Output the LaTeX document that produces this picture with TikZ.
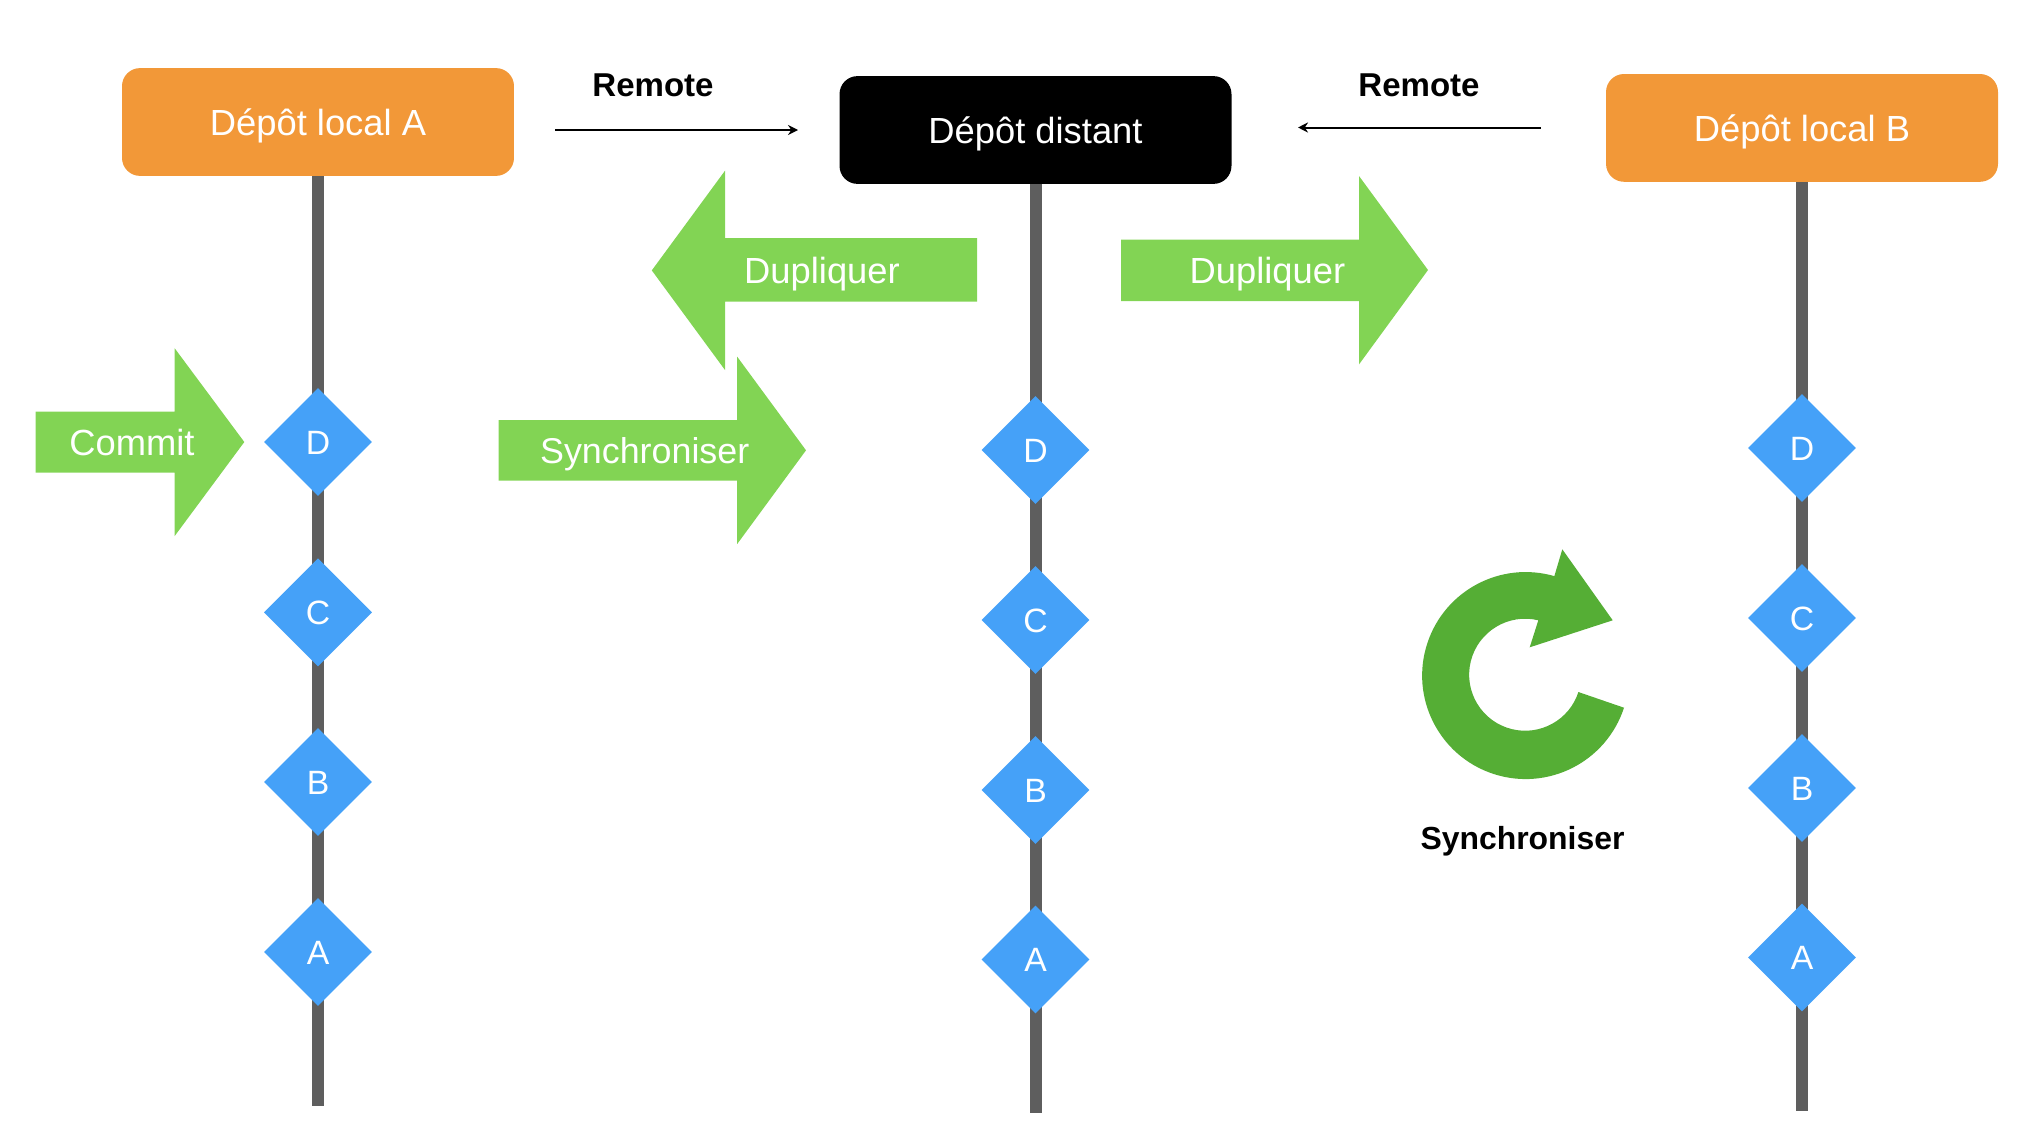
\documentclass[tikz,border=0pt]{standalone}
\usepackage{fontspec}
\setmainfont{Liberation Sans}
\usetikzlibrary{shapes.geometric,arrows.meta,backgrounds}
\definecolor{boxorange}{HTML}{F29838}
\definecolor{arrowgreen}{HTML}{82D454}
\definecolor{syncgreen}{HTML}{55AE35}
\definecolor{diamondblue}{HTML}{45A1F8}
\definecolor{spinegray}{HTML}{5E5E5E}
\tikzset{
  x=0.05cm,y=0.05cm,
  repo/.style={draw=none,fill=#1,rounded corners=0.9cm,minimum width=19.6cm,minimum height=5.39cm,inner sep=0pt,text=white,font=\fontsize{51.7}{60}\selectfont,text height=1.3cm,text depth=0pt},
  commitmark/.style={diamond,draw=none,fill=diamondblue,minimum width=5.4cm,minimum height=5.4cm,inner sep=0pt,text=white,font=\fontsize{48}{60}\selectfont,text height=1.22cm,text depth=0pt},
  spine/.style={line width=0.6cm,draw=spinegray},
  bigarrow/.style={fill=arrowgreen,draw=none},
  arrowtext/.style={inner sep=0pt,text=white,font=\fontsize{51.7}{60}\selectfont,text height=1.3cm,text depth=0pt},
  boldtext/.style={inner sep=0pt,text=black,font=\fontsize{47}{56}\selectfont\bfseries,text height=1.18cm,text depth=0pt},
  thinarrow/.style={line width=0.1cm,draw=black,-{Stealth[length=0.5cm,width=0.5cm]}}
}
\begin{document}
\begin{tikzpicture}
\useasboundingbox (0,0) rectangle (2030,-1138);
% repositories
\node[repo=boxorange] (localA) at (318,-122) {\raisebox{-1pt}{Dépôt local A}};
\node[repo=black] (distant) at (1035.5,-130) {Dépôt distant};
\node[repo=boxorange] (localB) at (1802,-127.9) {\raisebox{-1pt}{Dépôt local B}};
% commits
\node[commitmark] (aD) at (318,-442) {D};
\node[commitmark] (aC) at (318,-612.4) {C};
\node[commitmark] (aB) at (318,-782) {B};
\node[commitmark] (aA) at (318,-952) {A};
\node[commitmark] (mD) at (1035.5,-450) {D};
\node[commitmark] (mC) at (1035.5,-620) {C};
\node[commitmark] (mB) at (1035.5,-790) {B};
\node[commitmark] (mA) at (1035.5,-959.5) {A};
\node[commitmark] (bD) at (1802,-448) {D};
\node[commitmark] (bC) at (1802,-618) {C};
\node[commitmark] (bB) at (1802,-788) {B};
\node[commitmark] (bA) at (1802,-957.5) {A};
% spine ends
\coordinate (aEnd) at (318,-1105.6);
\coordinate (mEnd) at (1035.5,-1113.4);
\coordinate (bEnd) at (1802,-1110.8);
\begin{scope}[on background layer]
\draw[spine] (localA.south) -- (aEnd);
\draw[spine] (distant.south) -- (mEnd);
\draw[spine] (localB.south) -- (bEnd);
\end{scope}
% remote arrows
\coordinate (r1s) at (555,-130);
\coordinate (r1e) at (798,-130);
\coordinate (r2s) at (1540.6,-127.5);
\coordinate (r2e) at (1298,-127.5);
\draw[thinarrow] (r1s) -- (r1e);
\draw[thinarrow] (r2s) -- (r2e);
\node[boldtext] (remote1) at (653,-84.5) {Remote};
\node[boldtext] (remote2) at (1419,-84.5) {Remote};
% big arrows
\fill[bigarrow] (35.7,-411.7) -- (174.7,-411.7) -- (174.7,-348.3) -- (244.3,-442) -- (174.7,-536) -- (174.7,-472.7) -- (35.7,-472.7) -- cycle;
\node[arrowtext] (commit) at (132,-442) {Commit};
\fill[bigarrow] (498.7,-420) -- (737.2,-420) -- (737.2,-356.7) -- (806,-450.3) -- (737.2,-544) -- (737.2,-480.7) -- (498.7,-480.7) -- cycle;
\node[arrowtext,font=\fontsize{51}{60}\selectfont] (sync1) at (644.7,-450.5) {Synchroniser};
\fill[bigarrow] (977,-238) -- (725,-238) -- (725,-170.7) -- (651.8,-270.4) -- (725,-370) -- (725,-301.7) -- (977,-301.7) -- cycle;
\node[arrowtext] (dup1) at (822,-270.6) {Dupliquer};
\fill[bigarrow] (1121,-239.5) -- (1359,-239.5) -- (1359,-176) -- (1428,-270) -- (1359,-364.4) -- (1359,-301) -- (1121,-301) -- cycle;
\node[arrowtext] (dup2) at (1267.4,-270) {Dupliquer};
% circular arrow
\fill[syncgreen] (1624,-707.7) arc[start angle=-18.1,end angle=-286.1,radius=5.175cm]
  -- (1562.3,-549.3) -- (1612.7,-620.3) -- (1529.7,-647.3) -- (1538.3,-620.3)
  arc[start angle=76.4,end angle=342,radius=2.8cm] -- cycle;
\node[boldtext,font=\fontsize{45.4}{56}\selectfont\bfseries] (sync2) at (1522.5,-837.6) {Synchroniser};
\end{tikzpicture}
\end{document}
